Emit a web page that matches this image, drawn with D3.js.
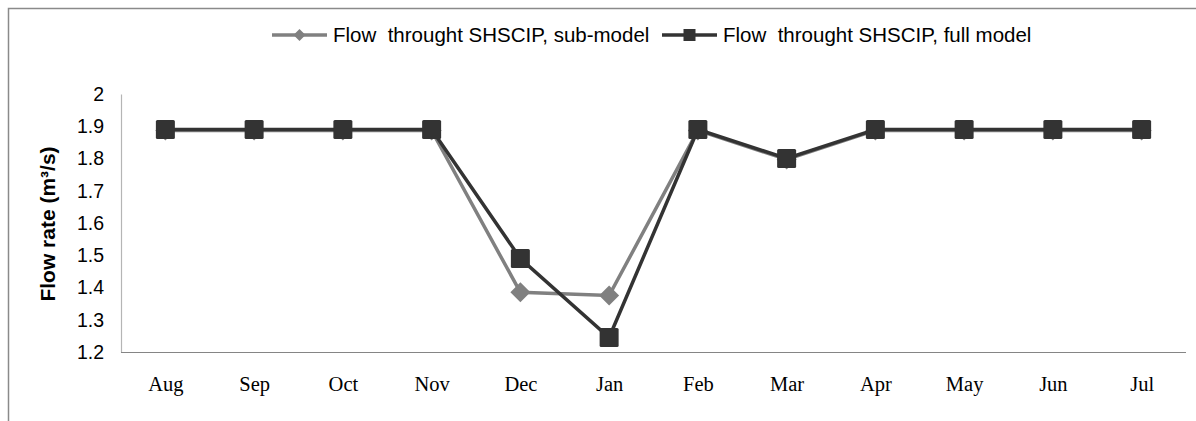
<!DOCTYPE html>
<html>
<head>
<meta charset="utf-8">
<script src="https://cdn.jsdelivr.net/npm/d3@7"></script>
<style>
  body { margin: 0; background: #fff; }
  svg { display: block; }
</style>
</head>
<body>
<div id="chart"></div>
<script>
// Chart data
const months = ['Aug', 'Sep', 'Oct', 'Nov', 'Dec', 'Jan', 'Feb', 'Mar', 'Apr', 'May', 'Jun', 'Jul'];
const subModel = [1.887, 1.887, 1.887, 1.887, 1.385, 1.375, 1.887, 1.797, 1.887, 1.887, 1.887, 1.887];
const fullModel = [1.89, 1.89, 1.89, 1.89, 1.49, 1.245, 1.89, 1.80, 1.89, 1.89, 1.89, 1.89];
const yTicks = [1.2, 1.3, 1.4, 1.5, 1.6, 1.7, 1.8, 1.9, 2];
const seriesNames = ['Flow  throught SHSCIP, sub-model', 'Flow  throught SHSCIP, full model'];

const width = 1196, height = 421;
const subColor = '#808080';
const fullColor = '#333333';

const svg = d3.select('#chart')
  .append('svg')
  .attr('width', width)
  .attr('height', height);

// Outer chart border (only top and left visible in the frame)
svg.append('rect')
  .attr('x', 8.5)
  .attr('y', 8.5)
  .attr('width', 1400)
  .attr('height', 600)
  .attr('fill', 'none')
  .attr('stroke', '#8a8a8a')
  .attr('stroke-width', 1.5);

// Scales
const x = d3.scalePoint()
  .domain(months)
  .range([121, 1186])
  .padding(0.5);

const y = d3.scaleLinear()
  .domain([1.2, 2])
  .range([352, 94]);

// Y axis (line + labels only)
const yAxis = d3.axisLeft(y)
  .tickValues(yTicks)
  .tickSize(0)
  .tickPadding(17)
  .tickFormat(d => d3.format('')(d));

const yg = svg.append('g')
  .attr('transform', 'translate(121,0)')
  .call(yAxis);
yg.select('.domain').attr('stroke', '#b5b5b5').attr('stroke-width', 1.2);
yg.selectAll('text')
  .attr('font-family', '"Liberation Sans", Arial, sans-serif')
  .attr('font-size', 19.5)
  .attr('fill', '#000');

// X axis (line + labels only)
const xAxis = d3.axisBottom(x)
  .tickSize(0)
  .tickPadding(24);

const xg = svg.append('g')
  .attr('transform', 'translate(0,352.5)')
  .call(xAxis);
xg.select('.domain')
  .attr('d', `M121,0H1186`)
  .attr('stroke', '#858585')
  .attr('stroke-width', 1.2);
xg.selectAll('text')
  .attr('font-family', '"Liberation Serif", "Times New Roman", serif')
  .attr('font-size', 20.5)
  .attr('fill', '#000');

// Y axis title
svg.append('text')
  .attr('transform', 'translate(55,224) rotate(-90)')
  .attr('text-anchor', 'middle')
  .attr('font-family', '"Liberation Sans", Arial, sans-serif')
  .attr('font-weight', 'bold')
  .attr('font-size', 21)
  .attr('fill', '#000')
  .text('Flow rate (m³/s)');

// Marker helpers
const diamond = r => `M0,${-r}L${r},0L0,${r}L${-r},0Z`;

const line = d3.line()
  .x((d, i) => x(months[i]))
  .y(d => y(d));

// Sub-model series
svg.append('path')
  .datum(subModel)
  .attr('d', line)
  .attr('fill', 'none')
  .attr('stroke', subColor)
  .attr('stroke-width', 3.5);

svg.selectAll('.sub-point')
  .data(subModel)
  .enter()
  .append('path')
  .attr('class', 'sub-point')
  .attr('transform', (d, i) => `translate(${x(months[i])},${y(d)})`)
  .attr('d', diamond(10))
  .attr('fill', subColor);

// Full model series
svg.append('path')
  .datum(fullModel)
  .attr('d', line)
  .attr('fill', 'none')
  .attr('stroke', fullColor)
  .attr('stroke-width', 3.5);

svg.selectAll('.full-point')
  .data(fullModel)
  .enter()
  .append('rect')
  .attr('class', 'full-point')
  .attr('x', (d, i) => x(months[i]) - 9.5)
  .attr('y', d => y(d) - 9.5)
  .attr('width', 19)
  .attr('height', 19)
  .attr('rx', 1.5)
  .attr('fill', fullColor);

// Legend
const legendItems = [
  { name: seriesNames[0], color: subColor, marker: 'diamond', x0: 272 },
  { name: seriesNames[1], color: fullColor, marker: 'square', x0: 662 }
];

const legend = svg.selectAll('.legend-item')
  .data(legendItems)
  .enter()
  .append('g')
  .attr('class', 'legend-item')
  .attr('transform', d => `translate(${d.x0},35)`);

legend.append('line')
  .attr('x1', 0)
  .attr('x2', 55)
  .attr('y1', 0)
  .attr('y2', 0)
  .attr('stroke', d => d.color)
  .attr('stroke-width', 3.5);

legend.filter(d => d.marker === 'diamond')
  .append('path')
  .attr('transform', 'translate(27.5,0)')
  .attr('d', diamond(6))
  .attr('fill', d => d.color);

legend.filter(d => d.marker === 'square')
  .append('rect')
  .attr('x', 27.5 - 6)
  .attr('y', -6)
  .attr('width', 12)
  .attr('height', 12)
  .attr('fill', d => d.color);

legend.append('text')
  .attr('x', 61)
  .attr('y', 7)
  .attr('font-family', '"Liberation Sans", Arial, sans-serif')
  .attr('font-size', 20.5)
  .attr('fill', '#000')
  .style('white-space', 'pre')
  .text(d => d.name);
</script>
</body>
</html>
